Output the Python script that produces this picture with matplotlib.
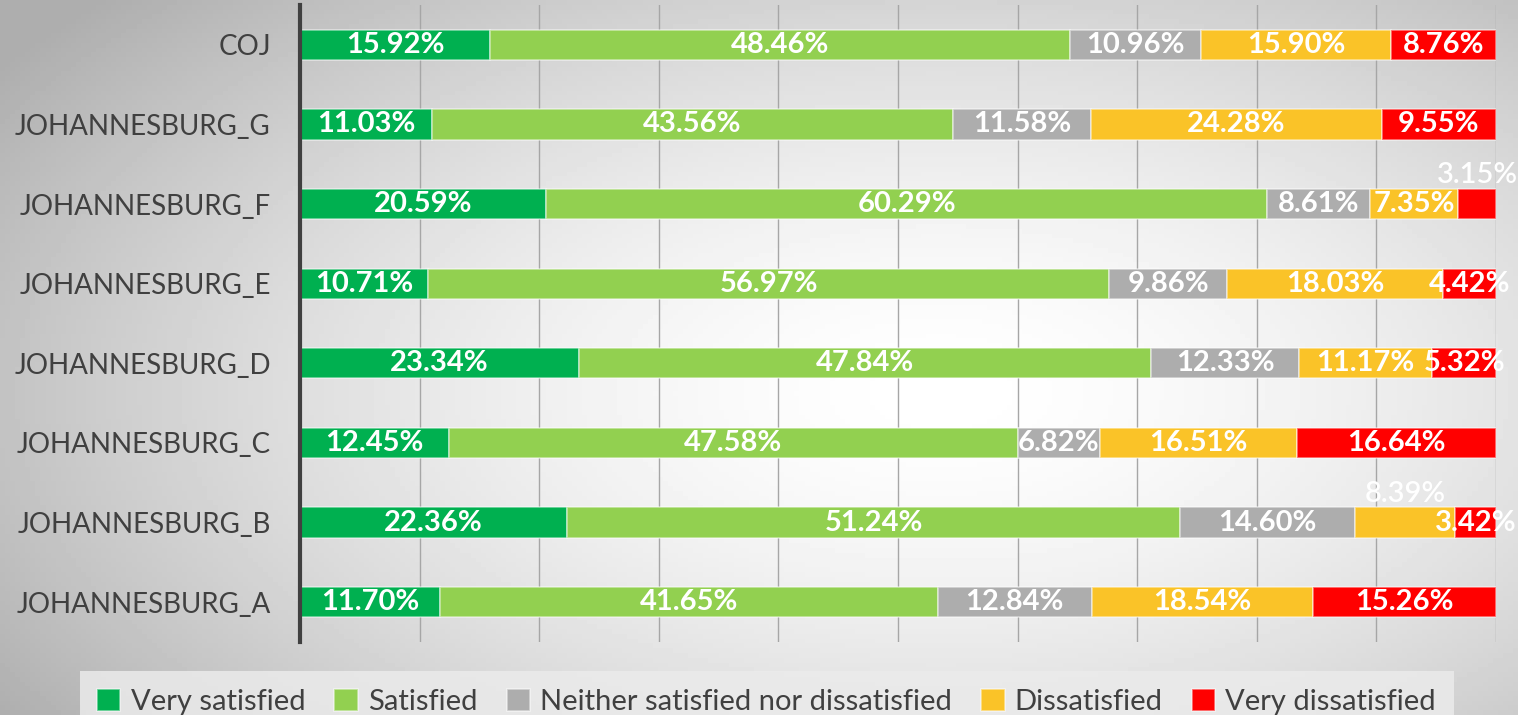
import numpy as np
import matplotlib.pyplot as plt

# data (bottom to top as drawn)
regions = ['JOHANNESBURG_A', 'JOHANNESBURG_B', 'JOHANNESBURG_C', 'JOHANNESBURG_D',
           'JOHANNESBURG_E', 'JOHANNESBURG_F', 'JOHANNESBURG_G', 'COJ']
very_satisfied = [11.70, 22.36, 12.45, 23.34, 10.71, 20.59, 11.03, 15.92]
satisfied = [41.65, 51.24, 47.58, 47.84, 56.97, 60.29, 43.56, 48.46]
neither = [12.84, 14.60, 6.82, 12.33, 9.86, 8.61, 11.58, 10.96]
dissatisfied = [18.54, 8.39, 16.51, 11.17, 18.03, 7.35, 24.28, 15.90]
very_dissatisfied = [15.26, 3.42, 16.64, 5.32, 4.42, 3.15, 9.55, 8.76]

series_names = ['Very satisfied', 'Satisfied', 'Neither satisfied nor dissatisfied',
                'Dissatisfied', 'Very dissatisfied']
colors = ['#00B050', '#92D050', '#ADADAD', '#FAC328', '#FF0000']
series = [very_satisfied, satisfied, neither, dissatisfied, very_dissatisfied]

fig = plt.figure(figsize=(15.18, 7.15), dpi=100)

# background gradient
bg = fig.add_axes([0, 0, 1, 1], zorder=-10)
xx, yy = np.meshgrid(np.linspace(0, 1, 300), np.linspace(0, 1, 150))
r = np.sqrt(((xx - 0.62) / 1.0) ** 2 + ((yy - 0.55) / 1.1) ** 2)
shade = 1.0 - 0.32 * np.clip(r / 0.75, 0, 1) ** 1.6
bg.imshow(shade, cmap='gray', vmin=0, vmax=1, aspect='auto', extent=[0, 1, 0, 1])
bg.axis('off')

ax = fig.add_axes([0.1976, 0.102, 0.7879, 0.891])
ax.patch.set_alpha(0)

y = np.arange(len(regions))
left = np.zeros(len(regions))
for name, vals, col in zip(series_names, series, colors):
    vals = np.array(vals)
    ax.barh(y, vals, left=left, height=0.38, color=col, label=name,
            edgecolor=(1, 1, 1, 0.5), linewidth=1.2, zorder=3)
    for i, v in enumerate(vals):
        cx = left[i] + v / 2
        txt = f'{v:.2f}%'
        # small segments get their label lifted above the bar
        if (regions[i] == 'JOHANNESBURG_F' and name == 'Very dissatisfied') or \
           (regions[i] == 'JOHANNESBURG_B' and name == 'Dissatisfied'):
            ax.text(cx, y[i] + 0.36, txt, ha='center', va='center', color='white',
                    fontsize=21, fontweight='semibold', family='Lato', zorder=5)
        else:
            ax.text(cx, y[i], txt, ha='center', va='center', color='white',
                    fontsize=21, fontweight='bold', family='Lato', zorder=5)
    left += vals

ax.set_xlim(0, 100)
ax.set_ylim(-0.5, 7.5)
ax.set_xticks(np.arange(0, 101, 10))
ax.set_xticklabels([])
ax.tick_params(axis='x', length=0)
ax.tick_params(axis='y', length=0, pad=21)
ax.set_yticks(y)
ax.set_yticklabels(regions, fontsize=20, family='Lato', color='#404040')
ax.grid(axis='x', color='#A6A6A6', linewidth=1, zorder=0)
for s in ['top', 'right', 'bottom']:
    ax.spines[s].set_visible(False)
ax.spines['left'].set_color('#404040')
ax.spines['left'].set_linewidth(3)
ax.spines['left'].set_zorder(6)

leg = fig.legend(loc='lower center', bbox_to_anchor=(0.505, -0.045), ncol=5,
                 frameon=True, fancybox=False, handlelength=0.8,
                 handleheight=0.8, handletextpad=0.35, columnspacing=1.0,
                 prop={'family': 'Lato', 'size': 21}, borderpad=0.6)
leg.get_frame().set_facecolor('#EBEBEB')
leg.get_frame().set_edgecolor('none')
leg.get_frame().set_alpha(0.85)
for t in leg.get_texts():
    t.set_color('#404040')

fig.savefig('out.png', dpi=100)
